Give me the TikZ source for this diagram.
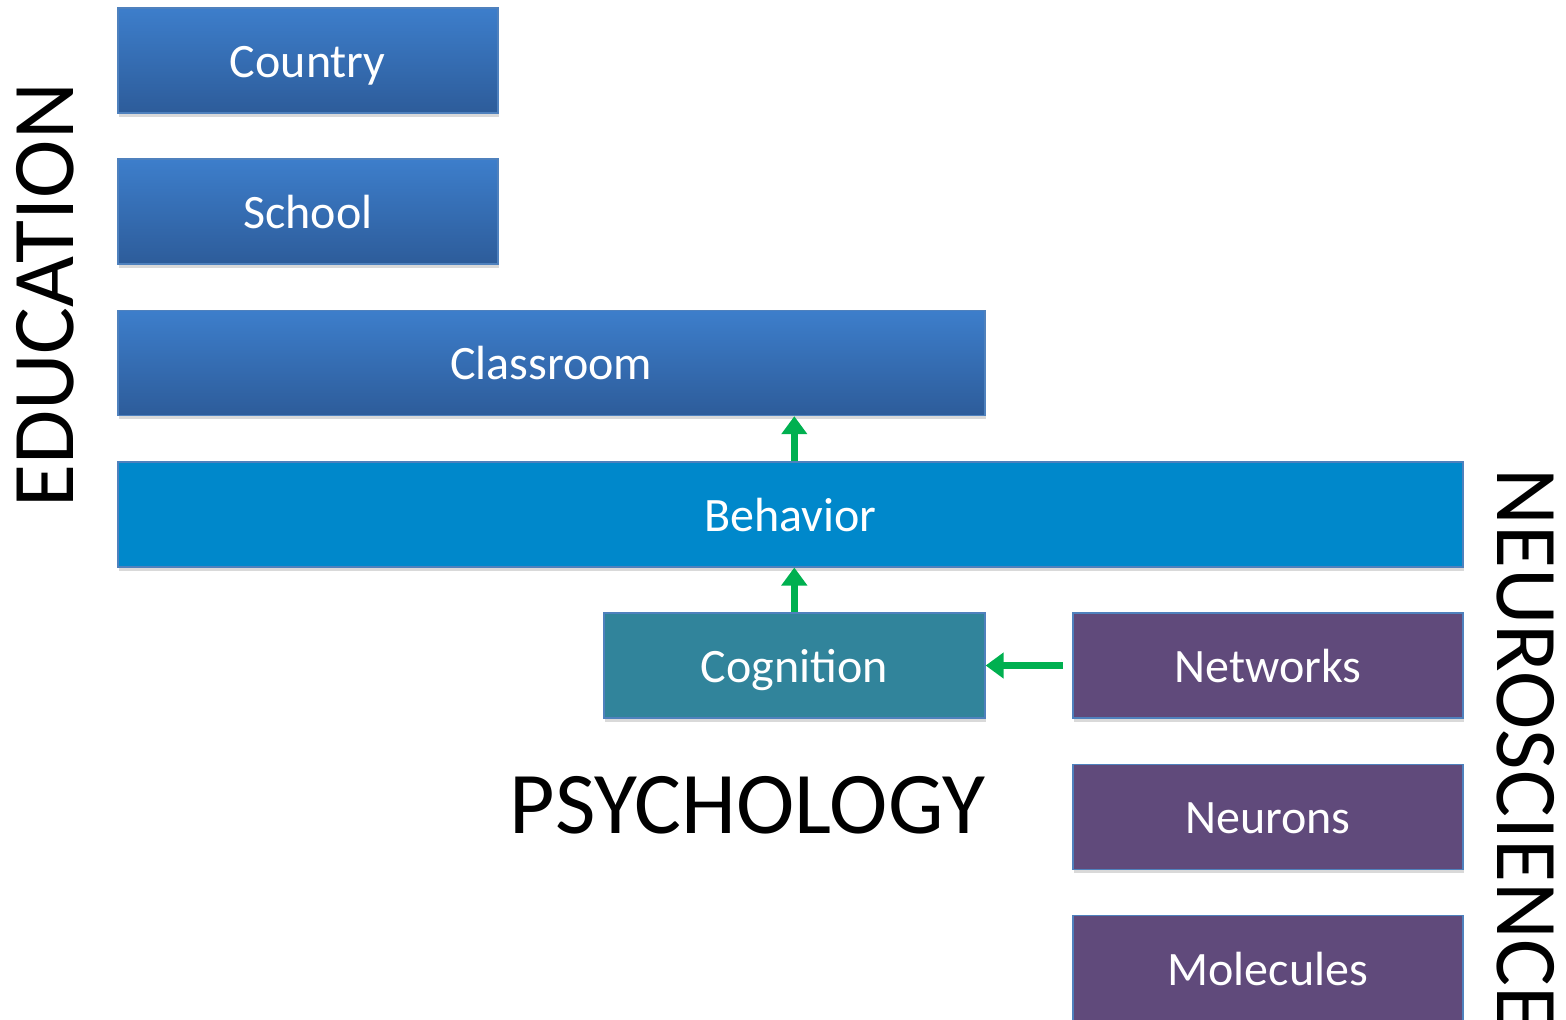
\documentclass[tikz,border=0pt]{standalone}
\usepackage{fontspec}
\setmainfont{Carlito}
\usetikzlibrary{positioning, arrows.meta, shadows}

\definecolor{eduTop}{RGB}{61,126,203}
\definecolor{eduBottom}{RGB}{45,92,154}
\definecolor{behBlue}{RGB}{0,136,203}
\definecolor{cogTeal}{RGB}{49,132,155}
\definecolor{neuroPurple}{RGB}{96,74,123}
\definecolor{edgeBlue}{RGB}{79,129,189}
\definecolor{arrowGreen}{RGB}{0,176,80}

\tikzset{
  tierbox/.style={draw=edgeBlue, line width=0.8pt, minimum height=52.5pt, inner sep=0pt,
    text=white, font=\fontsize{24}{28}\selectfont, text height=17pt, text depth=0pt,
    drop shadow={shadow xshift=0.6pt, shadow yshift=-2pt, opacity=0.3}},
  edu/.style={tierbox, top color=eduTop, bottom color=eduBottom},
  beh/.style={tierbox, fill=behBlue},
  cog/.style={tierbox, fill=cogTeal},
  neuro/.style={tierbox, fill=neuroPurple},
  field/.style={font=\fontsize{44}{50}\selectfont, inner sep=0pt},
  up/.style={draw=arrowGreen, line width=3.6pt, -{Triangle[length=9pt,width=12.5pt]}}
}

\begin{document}
\begin{tikzpicture}[node distance=22.35pt]
\useasboundingbox (0,0) rectangle (783pt,-509.5pt);
\clip (0,0) rectangle (783pt,-509.5pt);

% Education levels
\node[edu, minimum width=190pt, anchor=north west] (country) at (58.5pt,-3.5pt) {Country};
\node[edu, minimum width=190pt, below=of country.south west, anchor=north west] (school) {School};
\node[edu, minimum width=433.5pt, below=of school.south west, anchor=north west] (classroom) {Classroom};

% Shared level
\node[beh, minimum width=672.5pt, below=of classroom.south west, anchor=north west] (behavior) {Behavior};

% Psychology
\coordinate (cogtop) at (behavior.south -| classroom.east);
\node[cog, minimum width=190.5pt, below=of cogtop, anchor=north east] (cognition) {Cognition};

% Neuroscience levels
\coordinate (neurotop) at (behavior.south east);
\node[neuro, minimum width=195pt, below=of neurotop, anchor=north east] (networks) {Networks};
\node[neuro, minimum width=195pt, below=of networks] (neurons) {Neurons};
\node[neuro, minimum width=195pt, below=of neurons] (molecules) {Molecules};

% Arrows
\draw[up] (cognition.north) -- (cognition.north |- behavior.south);
\draw[up] (cognition.north |- behavior.north) -- (cognition.north |- classroom.south);
\draw[up, shorten <=4.5pt] (networks.west) -- (cognition.east);

% Field labels
\node[field, rotate=90, anchor=base west] (education) at (36.5pt,-254pt) {EDUCATION};
\node[field, anchor=base east] (psychology) at ([yshift=-57.5pt]cognition.south east) {PSYCHOLOGY};
\node[field, rotate=-90, anchor=base west] (neuroscience) at (748.5pt,-234pt) {NEUROSCIENCE};
\end{tikzpicture}
\end{document}
